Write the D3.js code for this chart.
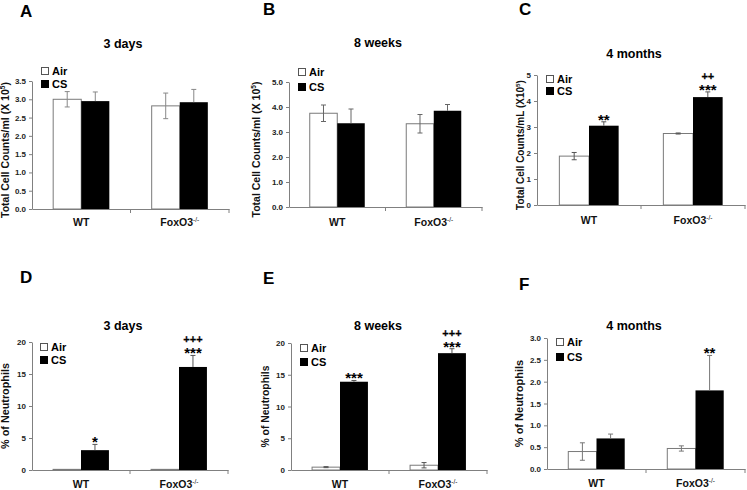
<!DOCTYPE html>
<html>
<head>
<meta charset="utf-8">
<script src="https://cdn.jsdelivr.net/npm/d3@7"></script>
<style>
  html, body { margin: 0; padding: 0; background: #fff; }
  svg { display: block; font-family: Arial, "Liberation Sans", sans-serif; }
</style>
</head>
<body>
<svg id="chart" width="747" height="490"></svg>
<script>
// ---------- DATA ----------
const groups = ["WT", "FoxO3"];
const groupSup = ["", "-/-"];
const seriesNames = ["Air", "CS"];

// A: 3 days, total cell counts
const airA = [3.00, 2.82], airErrA = [0.21, 0.35];
const csA  = [2.95, 2.92], csErrA  = [0.25, 0.35];
const sigA = ["", ""], plusA = ["", ""];
const ticksA = [0, 0.5, 1.0, 1.5, 2.0, 2.5, 3.0, 3.5];

// B: 8 weeks, total cell counts
const airB = [3.75, 3.33], airErrB = [0.33, 0.37];
const csB  = [3.35, 3.85], csErrB  = [0.57, 0.25];
const sigB = ["", ""], plusB = ["", ""];
const ticksB = [0, 1, 2, 3, 4, 5];

// C: 4 months, total cell counts
const airC = [1.88, 2.75], airErrC = [0.14, 0.02];
const csC  = [3.05, 4.15], csErrC  = [0.15, 0.20];
const sigC = ["**", "***"], plusC = ["", "++"];
const ticksC = [0, 1, 2, 3, 4, 5];

// D: 3 days, % neutrophils
const airD = [0.10, 0.10], airErrD = [0, 0];
const csD  = [3.10, 16.1], csErrD  = [0.9, 1.8];
const sigD = ["*", "***"], plusD = ["", "+++"];
const ticksD = [0, 5, 10, 15, 20];

// E: 8 weeks, % neutrophils
const airE = [0.45, 0.75], airErrE = [0.08, 0.42];
const csE  = [13.9, 18.4], csErrE  = [0.2, 0.7];
const sigE = ["***", "***"], plusE = ["", "+++"];
const ticksE = [0, 5, 10, 15, 20];

// F: 4 months, % neutrophils
const airF = [0.40, 0.47], airErrF = [0.20, 0.06];
const csF  = [0.70, 1.80], csErrF  = [0.10, 0.80];
const sigF = ["", "**"], plusF = ["", ""];
const ticksF = [0, 0.5, 1.0, 1.5, 2.0, 2.5, 3.0];

// ---------- LAYOUT ----------
const panels = [
  {letter:"A", lx:20, ly:17, title:"3 days", tx:123, ty:48, yl:["Total Cell Counts/ml (X 10","5",")"], ylx:9, ylfs:10.5,
   x0:32, x1:229, y0:209, yT:81, fmt:".1f", ticks:ticksA, air:airA, airErr:airErrA, cs:csA, csErr:csErrA, sig:sigA, plus:plusA,
   legX:41, legY:67, legDy:13, xly:226, errCol:"#888"},
  {letter:"B", lx:263, ly:15, title:"8 weeks", tx:378, ty:47, yl:["Total Cell Counts/ml (X 10","5",")"], ylx:260, ylfs:10.5,
   x0:289, x1:482, y0:207, yT:82, fmt:".1f", ticks:ticksB, air:airB, airErr:airErrB, cs:csB, csErr:csErrB, sig:sigB, plus:plusB,
   legX:298, legY:68, legDy:15, xly:226, errCol:"#666"},
  {letter:"C", lx:519, ly:15, title:"4 months", tx:634, ty:58, yl:["Total Cell Counts/mL (X10","5",")"], ylx:524, ylfs:10,
   x0:537, x1:745, y0:205, yT:75, fmt:"d", ticks:ticksC, air:airC, airErr:airErrC, cs:csC, csErr:csErrC, sig:sigC, plus:plusC,
   legX:546, legY:75, legDy:12, xly:224, errCol:"#555"},
  {letter:"D", lx:20, ly:283, title:"3 days", tx:123, ty:330, yl:["% of Neutrophils"], ylx:9, ylfs:10.8,
   x0:32, x1:228, y0:470, yT:342, fmt:"d", ticks:ticksD, air:airD, airErr:airErrD, cs:csD, csErr:csErrD, sig:sigD, plus:plusD,
   legX:40, legY:343, legDy:13, xly:488, errCol:"#555"},
  {letter:"E", lx:263, ly:284, title:"8 weeks", tx:378, ty:330, yl:["% of Neutrophils"], ylx:269, ylfs:10.3,
   x0:291, x1:487, y0:470, yT:343, fmt:"d", ticks:ticksE, air:airE, airErr:airErrE, cs:csE, csErr:csErrE, sig:sigE, plus:plusE,
   legX:300, legY:344, legDy:14, xly:488, errCol:"#555"},
  {letter:"F", lx:519, ly:290, title:"4 months", tx:634, ty:330, yl:["% of Neutrophils"], ylx:523, ylfs:11,
   x0:547, x1:745, y0:469, yT:338, fmt:".1f", ticks:ticksF, air:airF, airErr:airErrF, cs:csF, csErr:csErrF, sig:sigF, plus:plusF,
   legX:556, legY:338, legDy:15, xly:487, errCol:"#777"}
];

const svg = d3.select("#chart");
const axisCol = "#808080";

panels.forEach(p => {
  const g = svg.append("g");
  const xb = d3.scaleBand().domain(groups).range([p.x0, p.x1]).paddingInner(0).paddingOuter(0);
  const y = d3.scaleLinear().domain([0, p.ticks[p.ticks.length - 1]]).range([p.y0, p.yT]);
  const bw = xb.bandwidth() * 0.285;
  const cx = gname => xb(gname) + xb.bandwidth() / 2;

  // panel letter
  g.append("text").attr("x", p.lx).attr("y", p.ly).attr("font-size", 17).attr("font-weight", "bold").text(p.letter);
  // title
  g.append("text").attr("x", p.tx).attr("y", p.ty).attr("text-anchor", "middle")
    .attr("font-size", 12.5).attr("font-weight", "bold").text(p.title);

  // y axis
  const ya = d3.axisLeft(y).tickValues(p.ticks).tickFormat(d3.format(p.fmt)).tickSize(3).tickSizeOuter(0).tickPadding(3);
  const yg = g.append("g").attr("transform", `translate(${p.x0},0)`).call(ya);
  yg.select(".domain").attr("stroke", axisCol);
  yg.selectAll(".tick line").attr("stroke", axisCol);
  yg.selectAll(".tick text").attr("font-size", 8).attr("font-weight", "bold").attr("fill", "#222")
    .attr("font-family", "Arial, 'Liberation Sans', sans-serif");

  // y label
  const ymid = (p.y0 + p.yT) / 2 + (p.letter < "D" ? 5 : 0);
  const yt = g.append("text").attr("transform", `translate(${p.ylx},${ymid}) rotate(-90)`)
    .attr("text-anchor", "middle").attr("font-size", p.ylfs).attr("font-weight", "bold").attr("fill", "#111");
  yt.append("tspan").text(p.yl[0]);
  if (p.yl.length > 1) {
    yt.append("tspan").attr("font-size", p.ylfs * 0.62).attr("dy", -p.ylfs * 0.38).text(p.yl[1]);
    yt.append("tspan").attr("dy", p.ylfs * 0.38).text(p.yl[2]);
  }

  // x axis
  const xa = d3.axisBottom(xb).tickSize(0).tickFormat("");
  const xg = g.append("g").attr("transform", `translate(0,${p.y0})`).call(xa);
  xg.select(".domain").attr("stroke", axisCol);
  groups.forEach(gn => {
    const bx = xb(gn) + xb.bandwidth();
    g.append("line").attr("x1", bx).attr("x2", bx).attr("y1", p.y0).attr("y2", p.y0 + 4).attr("stroke", axisCol);
  });

  // x labels
  groups.forEach((gn, i) => {
    const t = g.append("text").attr("x", cx(gn)).attr("y", p.xly).attr("text-anchor", "middle")
      .attr("font-size", 10.5).attr("font-weight", "bold").attr("fill", "#111");
    t.append("tspan").text(gn);
    if (groupSup[i]) {
      t.append("tspan").attr("font-size", 6.5).attr("dy", -4).attr("font-weight", "normal").text(groupSup[i]);
    }
  });

  // bars
  groups.forEach((gn, i) => {
    const c = cx(gn);
    g.append("rect").attr("x", c - bw).attr("y", y(p.air[i])).attr("width", bw)
      .attr("height", p.y0 - y(p.air[i])).attr("fill", "#fff").attr("stroke", "#7a7a7a").attr("stroke-width", 1);
    g.append("rect").attr("x", c).attr("y", y(p.cs[i])).attr("width", bw)
      .attr("height", p.y0 - y(p.cs[i])).attr("fill", "#000");
  });

  // error bars
  const eb = (xc, lo, hi, col) => {
    g.append("line").attr("x1", xc).attr("x2", xc).attr("y1", y(lo)).attr("y2", y(hi)).attr("stroke", col);
    g.append("line").attr("x1", xc - 2.5).attr("x2", xc + 2.5).attr("y1", y(hi)).attr("y2", y(hi)).attr("stroke", col);
    if (lo !== hi) g.append("line").attr("x1", xc - 2.5).attr("x2", xc + 2.5).attr("y1", y(lo)).attr("y2", y(lo)).attr("stroke", col);
  };
  groups.forEach((gn, i) => {
    const c = cx(gn);
    if (p.airErr[i] > 0) eb(c - bw / 2, p.air[i] - p.airErr[i], p.air[i] + p.airErr[i], p.errCol);
    if (p.csErr[i] > 0) {
      const xc = c + bw / 2, hi = p.cs[i] + p.csErr[i];
      g.append("line").attr("x1", xc).attr("x2", xc).attr("y1", y(p.cs[i])).attr("y2", y(hi)).attr("stroke", p.errCol);
      g.append("line").attr("x1", xc - 2.5).attr("x2", xc + 2.5).attr("y1", y(hi)).attr("y2", y(hi)).attr("stroke", p.errCol);
    }
    // significance marks
    const top = y(p.cs[i] + p.csErr[i]);
    if (p.sig[i]) g.append("text").attr("x", c + bw / 2).attr("y", top + 3).attr("text-anchor", "middle")
      .attr("font-size", 15).attr("font-weight", "bold").attr("fill", "#000").text(p.sig[i]);
    if (p.plus[i]) g.append("text").attr("x", c + bw / 2).attr("y", top - 12).attr("text-anchor", "middle")
      .attr("font-size", 11).attr("font-weight", "bold").attr("fill", "#000")
      .attr("stroke", "#000").attr("stroke-width", 0.25).text(p.plus[i]);
  });

  // legend
  seriesNames.forEach((s, k) => {
    const yy = p.legY + k * p.legDy;
    g.append("rect").attr("x", p.legX + 0.5).attr("y", yy + 0.5).attr("width", 7).attr("height", 7)
      .attr("fill", k === 0 ? "#fff" : "#000").attr("stroke", k === 0 ? "#555" : "#000");
    g.append("text").attr("x", p.legX + 11).attr("y", yy + 8).attr("font-size", 11).attr("font-weight", "bold").text(s);
  });
});
</script>
</body>
</html>
